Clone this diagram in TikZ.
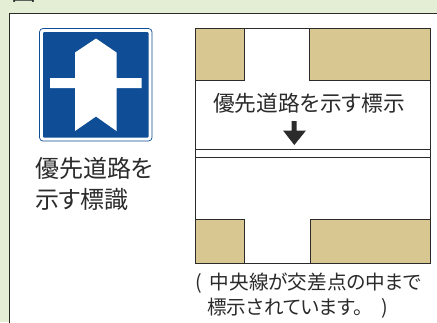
\documentclass[tikz,border=0pt]{standalone}
\usepackage{fontspec}
\setmainfont[RawFeature=+palt]{Noto Sans CJK JP}
\definecolor{bgg}{HTML}{E3EED5}
\definecolor{tan}{HTML}{D9C792}
\definecolor{signb}{HTML}{0F4E96}
\definecolor{ink}{HTML}{2B2B2B}
\tikzset{
 lot/.style={fill=tan,draw=ink,line width=0.6pt},
 lbl/.style={text=ink,inner sep=0pt,anchor=west,font=\fontsize{24}{24}\selectfont},
 captxt/.style={text=ink,inner sep=0pt,anchor=west,font=\fontsize{19.6}{19.6}\selectfont}
}
\begin{document}
\begin{tikzpicture}[x=1pt,y=-1pt,line join=miter]
\useasboundingbox (0,0) rectangle (437,322);
\fill[bgg] (0,0) rectangle (437,322);
\begin{scope}
\clip (0,0) rectangle (437,322);
\node[text=ink,inner sep=0pt,anchor=center,font=\fontsize{25}{25}\selectfont] (title) at (23.5,-8.5) {図};
\end{scope}
\fill[white,draw=ink,line width=0.7pt] (9.5,13.5) rectangle (440,330);
% sign
\draw[signb,line width=0.7pt,fill=white,rounded corners=3.5pt] (39.5,28.5) rectangle (152,141);
\fill[signb,rounded corners=1pt] (43,32) rectangle (148.5,137.5);
\fill[white] (96,38.5) -- (116.5,52.5) -- (116.5,78) -- (141.5,78) -- (141.5,88) -- (116.5,88) -- (116.5,131) -- (96,116.5) -- (75,131) -- (75,88) -- (50,88) -- (50,78) -- (75,78) -- (75,52.5) -- cycle;
\node[lbl] (l1) at (35,168) {優先道路を};
\node[lbl] (l2) at (35,199.5) {示す標識};
% road plan
\fill[white] (195.5,28) rectangle (430,263);
\draw[ink,line width=0.9pt] (195.5,28) -- (430,28);
\draw[ink,line width=0.9pt] (195.5,263) -- (430,263);
\draw[ink,line width=0.6pt] (195.5,28) -- (195.5,263);
\draw[ink,line width=0.6pt] (430,28) -- (430,263);
\draw[lot] (195.5,28) rectangle (244,80.5);
\draw[lot] (309.5,28) rectangle (430,80.5);
\draw[lot] (195.5,219) rectangle (244,263);
\draw[lot] (310,219) rectangle (430,263);
\draw[ink,line width=0.8pt,fill=white] (195.5,149) rectangle (430,157.5);
\node[lbl,anchor=center,font=\fontsize{21.7}{21.7}\selectfont] (t) at (309,103) {優先道路を示す標示};
\fill[ink] (291.5,121) -- (296.5,121) -- (296.5,130.5) -- (306,130.5) -- (294.3,145) -- (283,130.5) -- (291.5,130.5) -- cycle;
\node[captxt] (c1) at (195,283) {(\hspace{8pt}中央線が交差点の中まで};
\node[captxt] (c2) at (207,308) {標示されています。\hspace{18pt})};
\end{tikzpicture}
\end{document}
